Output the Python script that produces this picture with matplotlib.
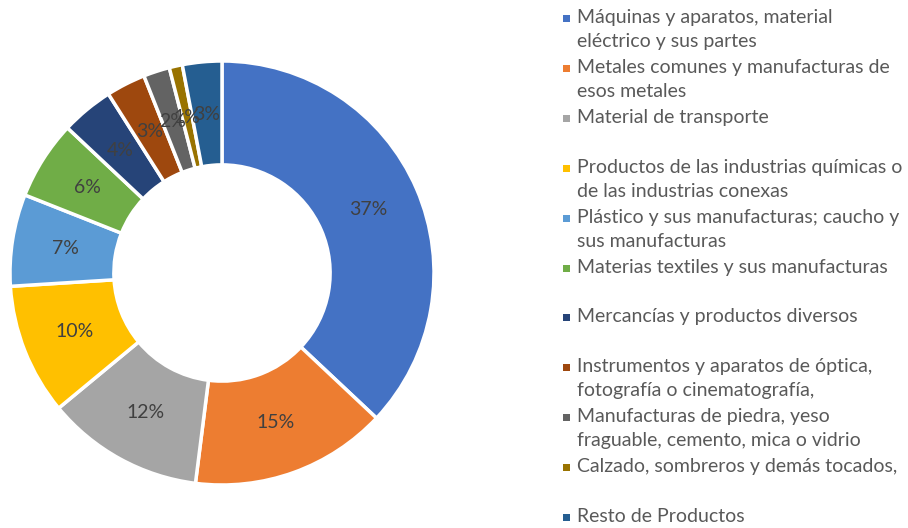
import matplotlib.pyplot as plt
from matplotlib.patches import Rectangle

plt.rcParams['font.family'] = ['Lato', 'DejaVu Sans']

categories = [
    "Máquinas y aparatos, material\neléctrico y sus partes",
    "Metales comunes y manufacturas de\nesos metales",
    "Material de transporte",
    "Productos de las industrias químicas o\nde las industrias conexas",
    "Plástico y sus manufacturas; caucho y\nsus manufacturas",
    "Materias textiles y sus manufacturas",
    "Mercancías y productos diversos",
    "Instrumentos y aparatos de óptica,\nfotografía o cinematografía,",
    "Manufacturas de piedra, yeso\nfraguable, cemento, mica o vidrio",
    "Calzado, sombreros y demás tocados,",
    "Resto de Productos",
]
shares = [37, 15, 12, 10, 7, 6, 4, 3, 2, 1, 3]
colors = ["#4472C4", "#ED7D31", "#A5A5A5", "#FFC000", "#5B9BD5", "#70AD47",
          "#264478", "#9E480E", "#636363", "#997300", "#255E91"]

fig = plt.figure(figsize=(9.08, 5.28), dpi=100)
ax = fig.add_axes([10 / 908, 43 / 528, 424 / 908, 424 / 528])

wedges, texts, autotexts = ax.pie(
    shares, colors=colors, startangle=90, counterclock=False,
    radius=1, autopct='%1.0f%%', pctdistance=0.75,
    wedgeprops=dict(width=0.49, edgecolor='white', linewidth=2.5),
    textprops=dict(color='#404040', fontsize=14))
ax.set_xlim(-1, 1)
ax.set_ylim(-1, 1)
ax.set_aspect('equal')

# legend drawn by hand so that every entry takes two lines like in Excel
lax = fig.add_axes([0, 0, 1, 1])
lax.set_xlim(0, 908)
lax.set_ylim(528, 0)
lax.axis('off')
y0, step = 18, 49.9
for i, (lab, c) in enumerate(zip(categories, colors)):
    y = y0 + i * step
    lax.add_patch(Rectangle((563, y - 3), 7, 7, color=c, lw=0))
    lax.text(577, y - 9, lab, va='top', fontsize=14, color='#595959',
             linespacing=1.5)

fig.savefig('out.png', dpi=100)
